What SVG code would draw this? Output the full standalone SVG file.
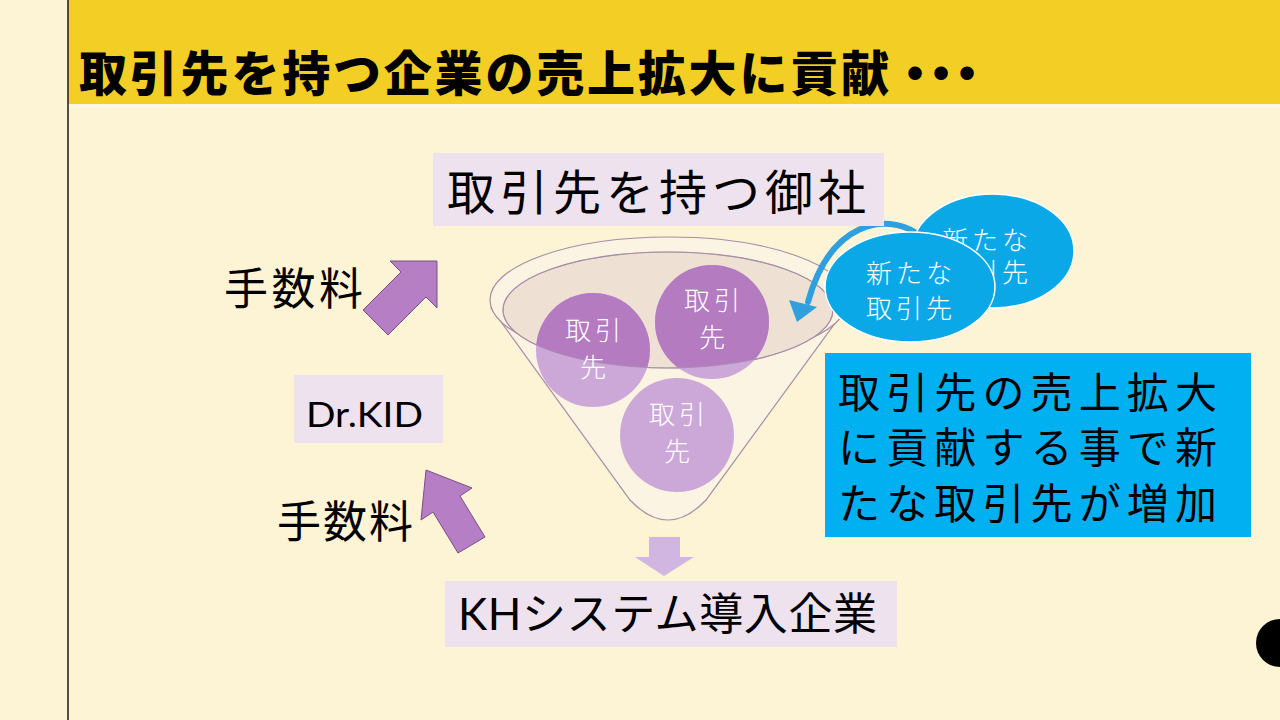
<svg xmlns="http://www.w3.org/2000/svg" width="1280" height="720" viewBox="0 0 1280 720">
<defs>
<style>
.jp{font-family:"Noto Sans CJK JP","Noto Sans CJK SC",sans-serif;}
.lbl{fill:#EEE2EF;}
.blk{fill:#000;}
.wht{fill:#fff;}
.parrow{fill:#B57EC5;stroke:#7A4F86;stroke-width:1;}
</style>
<clipPath id="innerClip"><ellipse cx="668" cy="310" rx="165" ry="58"/></clipPath>
</defs>
<rect x="0" y="0" width="1280" height="720" fill="#FDF3D5"/>
<rect x="68" y="0" width="1212" height="104" fill="#F3CF25"/>
<rect x="68" y="104" width="1212" height="4" fill="#FEF8E2"/>
<line x1="68" y1="0" x2="68" y2="720" stroke="#1a1a1a" stroke-width="1.5"/>
<text class="jp" y="91" font-size="48" font-weight="900" fill="#000"><tspan x="79" textLength="810" lengthAdjust="spacing">取引先を持つ企業の売上拡大に貢献</tspan><tspan x="891" letter-spacing="-22">・・・</tspan></text>

<g id="funnel">
<path d="M 491,308 L 630,500 Q 668,540 706,500 L 846,308 Z" fill="#FCF4E2" stroke="#A58DA6" stroke-width="1.2"/>
<ellipse cx="669" cy="300" rx="179" ry="63" fill="#FCF4E2" stroke="#A58DA6" stroke-width="1.2"/>
<ellipse cx="668" cy="310" rx="165" ry="58" fill="#EEE1D3" stroke="#A58DA6" stroke-width="1.2"/>
</g>

<g id="client1">
<circle cx="593" cy="350" r="57" fill="#CCA8D8"/>
<circle cx="593" cy="350" r="57" fill="#B47BC1" clip-path="url(#innerClip)"/>
</g>
<g id="client2">
<circle cx="712" cy="322" r="57" fill="#CCA8D8"/>
<circle cx="712" cy="322" r="57" fill="#B47BC1" clip-path="url(#innerClip)"/>
</g>
<g id="client3">
<circle cx="677" cy="435" r="57" fill="#CCA8D8"/>
</g>
<ellipse cx="668" cy="310" rx="165" ry="58" fill="none" stroke="#A58DA6" stroke-width="1" opacity="0.7"/>
<g id="client-labels" class="jp" font-size="26" font-weight="300" fill="#fff" text-anchor="middle" letter-spacing="4">
<text x="595" y="340">取引</text><text x="595" y="377">先</text>
<text x="714" y="310">取引</text><text x="714" y="347">先</text>
<text x="679" y="424">取引</text><text x="679" y="461">先</text>
</g>

<g id="connectors">
<polygon class="parrow" points="437,261 390,261 401,272 363,310 388,335 426,297 437,308"/>
<polygon class="parrow" points="426,470 472,488 460,496 485,537 458,553 433,512 421,520"/>
<polygon points="649,537 680,537 680,557 694,557 664,576 635,557 649,557" fill="#D0B6E0"/>
<path d="M 918,234 C 885,212 830,222 808,302" fill="none" stroke="#2FA0DD" stroke-width="6" stroke-linecap="round"/>
<polygon points="797,322 789,300 817,307" fill="#2FA0DD"/>
</g>

<g id="top-label">
<rect class="lbl" x="433" y="153" width="451" height="73"/>
<text class="jp blk" x="447" y="210" font-size="48" textLength="419" lengthAdjust="spacing">取引先を持つ御社</text>
</g>

<g id="new-client-back">
<ellipse cx="993" cy="251" rx="81" ry="57" fill="#0BA8E8" stroke="#fff" stroke-width="1.5"/>
<text class="jp wht" x="987" y="250" font-size="26" font-weight="300" text-anchor="middle" letter-spacing="4">新たな</text>
<text class="jp wht" x="987" y="282" font-size="26" font-weight="300" text-anchor="middle" letter-spacing="4">取引先</text>
</g>
<g id="new-client-front">
<ellipse cx="910" cy="287" rx="85" ry="55" fill="#0BA8E8" stroke="#fff" stroke-width="1.5"/>
<text class="jp wht" x="911" y="283" font-size="26" font-weight="300" text-anchor="middle" letter-spacing="4">新たな</text>
<text class="jp wht" x="911" y="318" font-size="26" font-weight="300" text-anchor="middle" letter-spacing="4">取引先</text>
</g>

<g id="note">
<rect x="825" y="353" width="426" height="184" fill="#00B0F0"/>
<text class="jp blk" x="838" y="408" font-size="42" textLength="379" lengthAdjust="spacing">取引先の売上拡大</text>
<text class="jp blk" x="838" y="463" font-size="42" textLength="379" lengthAdjust="spacing">に貢献する事で新</text>
<text class="jp blk" x="838" y="519" font-size="42" textLength="379" lengthAdjust="spacing">たな取引先が増加</text>
</g>

<g id="fee-top">
<text class="jp blk" x="224" y="305" font-size="44" textLength="139" lengthAdjust="spacing">手数料</text>
</g>
<g id="drkid">
<rect class="lbl" x="294" y="375" width="149" height="68"/>
<text x="306" y="427" font-family="Lato, 'Open Sans', sans-serif" font-size="35" fill="#000" textLength="117" lengthAdjust="spacingAndGlyphs">Dr.KID</text>
</g>
<g id="fee-bottom">
<text class="jp blk" x="277" y="538" font-size="44" textLength="136" lengthAdjust="spacing">手数料</text>
</g>

<g id="kh">
<rect class="lbl" x="445" y="581" width="452" height="66"/>
<text x="458" y="630" font-size="44" fill="#000" textLength="419" lengthAdjust="spacing"><tspan font-family="Lato, 'Open Sans', sans-serif">KH</tspan><tspan font-family="'Noto Sans CJK JP', sans-serif">システム導入企業</tspan></text>
</g>

<circle cx="1280" cy="643" r="24" fill="#000"/>
</svg>
